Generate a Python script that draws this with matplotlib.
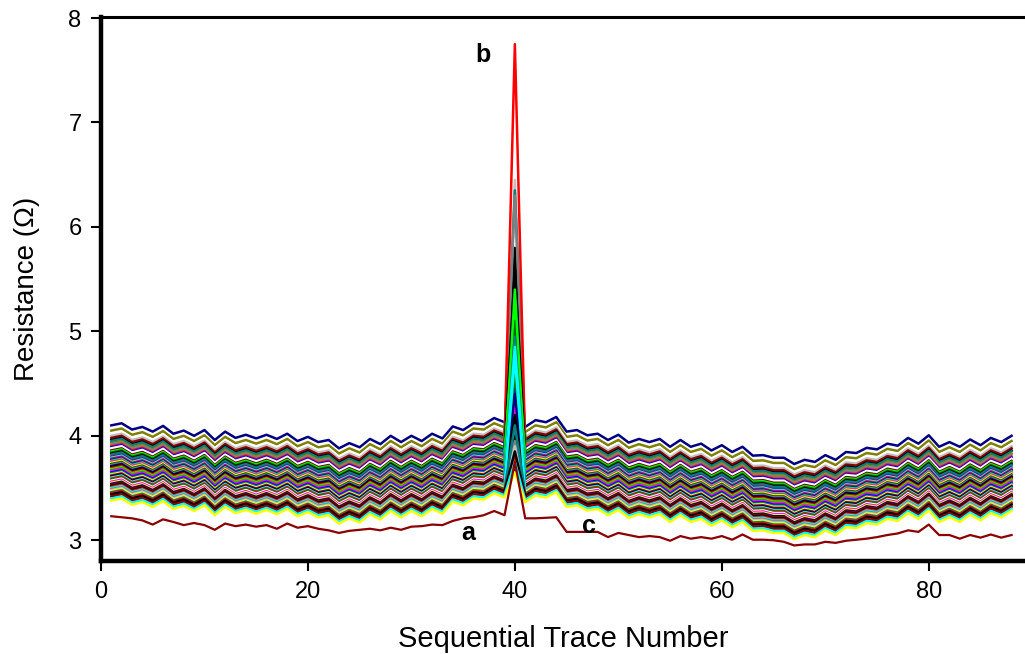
import numpy as np
import matplotlib.pyplot as plt

plt.rcParams['font.family'] = ['Liberation Sans', 'DejaVu Sans']

trace = np.arange(1, 89)

# top (navy) trace; index 39 (trace 40) is the spike, set per line below
top_line = [4.10, 4.12, 4.06, 4.085, 4.04, 4.095, 4.02, 4.05, 4.00, 4.055,
            3.96, 4.04, 3.98, 4.01, 3.975, 4.01, 3.97, 4.02, 3.95, 3.99,
            3.94, 3.96, 3.88, 3.93, 3.89, 3.97, 3.92, 4.00, 3.94, 4.00,
            3.95, 4.02, 3.975, 4.09, 4.055, 4.12, 4.11, 4.17, 4.13, 4.15,
            4.085, 4.15, 4.13, 4.18, 4.04, 4.055, 4.005, 4.02, 3.96, 4.01,
            3.935, 3.97, 3.94, 3.97, 3.895, 3.96, 3.895, 3.925, 3.86, 3.91,
            3.845, 3.895, 3.81, 3.815, 3.79, 3.79, 3.73, 3.77, 3.75, 3.815,
            3.77, 3.845, 3.835, 3.885, 3.87, 3.925, 3.905, 3.98, 3.925, 4.005,
            3.895, 3.94, 3.895, 3.965, 3.91, 3.98, 3.94, 4.00]

# vertical shift of each trace below the top one
offsets = [0.00, -0.05, -0.08, -0.10, -0.12, -0.14, -0.15, -0.17, -0.18, -0.20,
           -0.21, -0.22, -0.24, -0.25, -0.26, -0.27, -0.28, -0.30, -0.31, -0.32,
           -0.33, -0.34, -0.35, -0.36, -0.37, -0.38, -0.39, -0.40, -0.41, -0.42,
           -0.43, -0.44, -0.45, -0.46, -0.47, -0.48, -0.49, -0.50, -0.51, -0.52,
           -0.53, -0.54, -0.55, -0.56, -0.57, -0.58, -0.59, -0.60, -0.61, -0.62,
           -0.63, -0.64, -0.65, -0.66, -0.68, -0.70, -0.72]

# resistance at trace 40 for each line
peaks = [4.20, 4.30, 4.10, 6.45, 4.00, 5.80, 6.35, 4.15, 6.30, 7.75,
         4.70, 4.05, 4.40, 5.30, 5.50, 5.60, 5.00, 4.65, 4.90, 4.30,
         4.60, 5.20, 4.50, 4.00, 5.10, 4.80, 4.20, 4.35, 4.25, 5.40,
         4.10, 4.55, 4.45, 4.95, 3.95, 4.10, 4.00, 4.85, 3.90, 4.60,
         3.85, 4.30, 3.80, 4.40, 3.90, 4.20, 3.85, 4.75, 3.95, 3.90,
         3.75, 4.10, 3.80, 3.85, 3.70, 3.75, 3.65]

colors = ['navy', 'olive', 'white', 'silver', 'darkred', 'black', 'teal', 'olive',
          'gray', 'red', 'blue', 'white', 'maroon', 'lime', 'green', 'black',
          'teal', 'purple', 'cyan', 'red', 'blue', 'lime', 'magenta', 'yellow',
          'darkgreen', 'gray', 'navy', 'black', 'red', 'lime', 'olive', 'magenta',
          'blue', 'teal', 'yellow', 'purple', 'black', 'cyan', 'red', 'green',
          'white', 'magenta', 'yellow', 'navy', 'darkred', 'black', 'red', 'cyan',
          'gray', 'silver', 'yellow', 'teal', 'red', 'black', 'darkred', 'cyan',
          'yellow']

# lowest trace "a"
line_a = [3.23, 3.22, 3.21, 3.19, 3.15, 3.20, 3.175, 3.145, 3.165, 3.145,
          3.10, 3.16, 3.135, 3.15, 3.13, 3.145, 3.11, 3.16, 3.12, 3.135,
          3.11, 3.095, 3.07, 3.09, 3.10, 3.11, 3.095, 3.12, 3.10, 3.13,
          3.135, 3.15, 3.145, 3.185, 3.21, 3.22, 3.24, 3.28, 3.24, 3.75,
          3.21, 3.21, 3.215, 3.22, 3.08, 3.08, 3.08, 3.08, 3.03, 3.07,
          3.05, 3.03, 3.04, 3.03, 2.995, 3.04, 3.015, 3.03, 3.015, 3.04,
          3.005, 3.055, 3.005, 3.005, 3.00, 2.985, 2.95, 2.96, 2.96, 2.985,
          2.975, 2.995, 3.005, 3.015, 3.03, 3.05, 3.065, 3.095, 3.08, 3.15,
          3.05, 3.05, 3.015, 3.05, 3.025, 3.055, 3.025, 3.05]

fig = plt.figure(figsize=(10.25, 6.54), dpi=100)
ax = fig.add_axes([0.0985, 0.142, 0.9015, 0.832])

base = np.array(top_line)
for i, off in enumerate(offsets):
    y = base + off
    y[39] = peaks[i]
    ax.plot(trace, y, color=colors[i % len(colors)], lw=1.8)
ax.plot(trace, line_a, color='darkred', lw=1.6)

ax.text(36.9, 7.65, 'b', fontsize=18, fontweight='bold', ha='center', va='center')
ax.text(35.5, 3.07, 'a', fontsize=18, fontweight='bold', ha='center', va='center')
ax.text(47.2, 3.14, 'c', fontsize=18, fontweight='bold', ha='center', va='center')

ax.set_xlim(0, 89.3)
ax.set_ylim(2.8, 8.01)
ax.set_xticks([0, 20, 40, 60, 80])
ax.set_yticks([3, 4, 5, 6, 7, 8])
ax.tick_params(direction='out', length=7, width=1.5, labelsize=17, pad=7)
ax.spines['right'].set_visible(False)
ax.spines['left'].set_linewidth(3.2)
ax.spines['bottom'].set_linewidth(3.2)
ax.spines['top'].set_linewidth(2.2)

ax.set_xlabel('Sequential Trace Number', fontsize=21, labelpad=16)
ax.set_ylabel('Resistance (Ω)', fontsize=20, labelpad=20)

fig.savefig('out.png', dpi=100)
